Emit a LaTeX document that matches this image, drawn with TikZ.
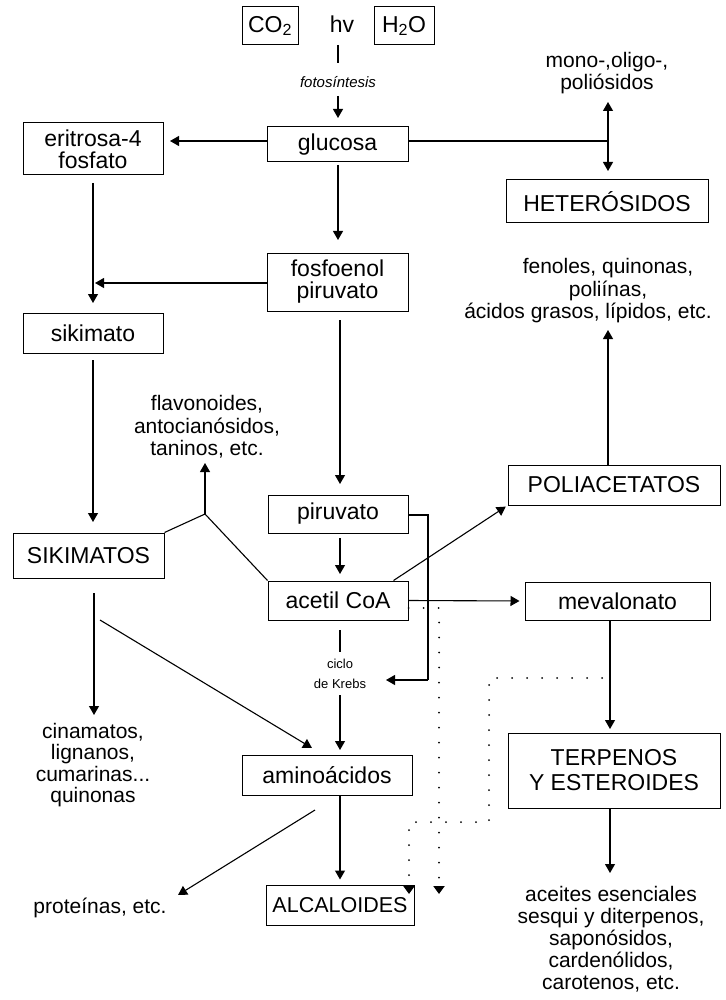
\documentclass[tikz,border=0pt]{standalone}
\usepackage{fontspec}
\setmainfont{Liberation Sans}
\usetikzlibrary{arrows.meta,calc}
\begin{document}
\begin{tikzpicture}[x=1pt,y=-1pt,
  bx/.style={draw, line width=1pt, align=center, inner sep=0pt, font=\fontsize{23}{22}\selectfont},
  tx/.style={align=center, inner sep=0pt, font=\fontsize{21}{22.5}\selectfont},
  sm/.style={align=center, inner sep=0pt, font=\fontsize{13}{20}\selectfont},
  ln/.style={line width=1.1pt},
  ar/.style={line width=1.1pt, -{Triangle[length=9pt,width=10pt]}},
  dt/.style={line width=2pt, line cap=round, dash pattern=on 0pt off 15pt, -{Triangle[length=8pt,width=11pt]}}
]
\useasboundingbox (0,0) rectangle (725,1000);
% top
\node[bx, minimum width=56pt, minimum height=38pt] (co2) at (270,26) {CO\textsubscript{2}};
\node[tx, font=\fontsize{23}{22}\selectfont] (hv) at (342,24) {hv};
\node[bx, minimum width=60pt, minimum height=38pt] (h2o) at (404,26) {H\textsubscript{2}O};
\node[sm, font=\fontsize{15}{16}\selectfont\itshape] (foto) at (338,82) {fotosíntesis};
\coordinate (hvtop) at (338,45);
\coordinate (hvend) at (338,63);
\draw[ln] (hvtop) -- (hvend);
% boxes
\node[bx, minimum width=141pt, minimum height=35pt] (glucosa) at (337.5,144.5) {glucosa};
\node[bx, minimum width=140pt, minimum height=52pt] (eritrosa) at (93,149) {eritrosa-4\\fosfato};
\node[tx] (mono) at (607,73) {mono-,oligo-,\\poliósidos};
\node[bx, minimum width=202pt, minimum height=43pt] (hetero) at (607,201.5) {HETERÓSIDOS};
\node[bx, minimum width=141pt, minimum height=58pt] (fosfo) at (337.5,282) {fosfoenol\\piruvato};
\node[bx, minimum width=140pt, minimum height=40pt] (sikimato) at (93,333) {sikimato};
\node[tx] (fenoles) at (608,291) {fenoles, quinonas,\\poliínas,\\\hspace*{-40pt}ácidos grasos, lípidos, etc.};
\node[tx] (flav) at (207,427) {flavonoides,\\antocianósidos,\\taninos, etc.};
\node[bx, minimum width=212pt, minimum height=40pt] (poli) at (614,485) {POLIACETATOS};
\node[bx, minimum width=140pt, minimum height=38pt] (piruvato) at (338,514) {piruvato};
\node[bx, minimum width=151pt, minimum height=45pt] (sikimatos) at (88.5,555.5) {SIKIMATOS};
\node[bx, minimum width=140pt, minimum height=39pt] (acetil) at (338,600.5) {acetil CoA};
\node[bx, minimum width=185pt, minimum height=38pt] (meva) at (617.5,601) {mevalonato};
\node[sm] (krebs) at (340,674) {ciclo\\de Krebs};
\node[tx, font=\fontsize{21}{21.5}\selectfont] (cina) at (93,765) {cinamatos,\\lignanos,\\cumarinas...\\quinonas};
\node[bx, minimum width=212pt, minimum height=75pt, font=\fontsize{23}{25}\selectfont] (terp) at (614,770.5) {TERPENOS\\Y ESTEROIDES};
\node[bx, minimum width=170pt, minimum height=40pt] (amino) at (327,775) {aminoácidos};
\node[bx, minimum width=148pt, minimum height=40pt, font=\fontsize{21.5}{22}\selectfont] (alca) at (340,905) {ALCALOIDES};
\node[tx] (prot) at (100,908) {proteínas, etc.};
\node[tx, anchor=north, font=\fontsize{21}{22}\selectfont] (aceites) at (611,886) {aceites esenciales\\sesqui y diterpenos,\\saponósidos,\\cardenólidos,\\carotenos, etc.};
% coordinates
\coordinate (gtop) at (338,96);
\coordinate (j1) at (608,141);
\coordinate (fosfotip) at (95,283);
\coordinate (J) at (205,514);
\coordinate (flavtip) at (205,463);
\coordinate (pk1) at (428,515);
\coordinate (pk2) at (428,680);
\coordinate (kreb tip) at (386,680);
\coordinate (fentip) at (608,330);
\coordinate (protip) at (178,895);
\coordinate (cinatip) at (94,715);
\coordinate (aminotip) at (312,748);
% connectors
\draw[ar] (gtop) -- (338,118);
\draw[ar] (glucosa.west |- 0,141) -- (170,141);
\draw[ln] (glucosa.east |- 0,141) -- (j1);
\draw[line width=1.1pt, {Triangle[length=9pt,width=10pt]}-{Triangle[length=9pt,width=10pt]}] (608,102) -- (608,171);
\draw[ar] (338,165) -- (338,240);
\draw[ar] (fosfo.west |- 0,283) -- (fosfotip);
\draw[ar] (93,183) -- (93,303);
\draw[ar] (93,360) -- (93,522);
\draw[ln] (sikimatos.north east) -- (J) -- (acetil.north west);
\draw[ar] (J) -- (flavtip);
\draw[ar] (340,320) -- (340,484);
\draw[ar] (340,538) -- (340,574);
\draw[ln] (piruvato.east |- pk1) -- (pk1) -- (pk2);
\draw[ar] (pk2) -- (kreb tip);
\draw[ar, shorten >=2pt] ($(acetil.north east)+(-15,0)$) -- (poli.south west);
\draw[ar, shorten >=5pt] (acetil.east) -- (meva.west);
\draw[ar] (608,465) -- (fentip);
\draw[ar, shorten >=4pt] (610,620) -- (610,733);
\draw[ar] (610,808) -- (610,873);
\draw[ln] (340,630) -- (340,652);
\draw[ar, shorten >=5pt] (340,695) -- (340,755);
\draw[ar, shorten >=5pt] (340,795) -- (alca.north -| 340,0);
\draw[ar] (315,810) -- (protip);
\draw[ar] (94,593) -- (cinatip);
\draw[ar] (100,620) -- (aminotip);
% dotted
\draw[dt] (acetil.east |- 0,608) -- (439,608) -- (439,894);
\draw[dt] (602,678) -- (489,678) -- (489,822) -- (409,822) -- (409,894);
\end{tikzpicture}
\end{document}
